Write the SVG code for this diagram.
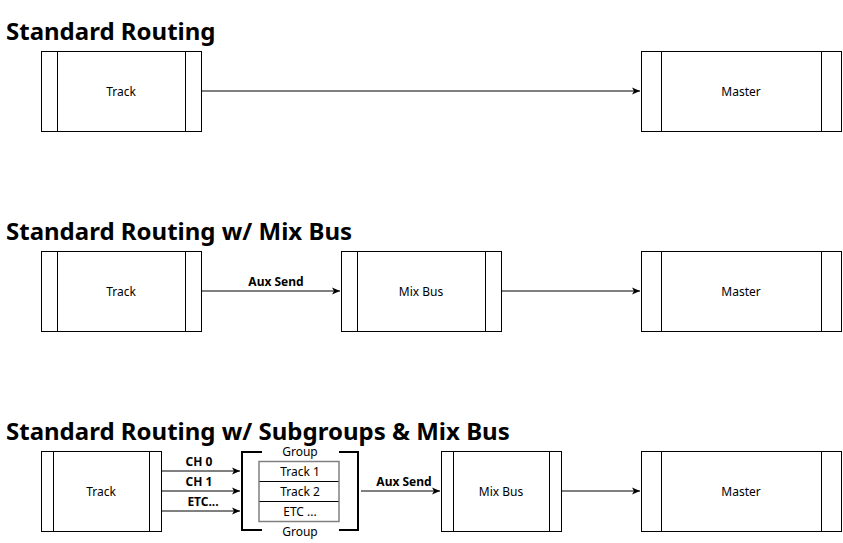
<svg xmlns="http://www.w3.org/2000/svg" width="843" height="543" viewBox="0 0 843 543">
<style>
.box{fill:#fff;stroke:#000;stroke-width:1}
.t{font-family:"Noto Sans","Open Sans","DejaVu Sans",sans-serif;font-size:12px;fill:#000;text-anchor:middle;dominant-baseline:central}
.b{font-weight:bold}
.title{font-family:"Noto Sans","Open Sans","DejaVu Sans",sans-serif;font-size:24px;font-weight:bold;fill:#000}
.c{stroke:#000;stroke-width:1;fill:none}
.br{stroke:#000;stroke-width:2;fill:none}
</style>
<defs>
<marker id="arr" markerWidth="10" markerHeight="8" refX="8" refY="4" orient="auto" markerUnits="userSpaceOnUse">
<path d="M0,0.5 L8,4 L0,7.5 L2,4 Z" fill="#000"/>
</marker>
</defs>
<rect width="843" height="543" fill="#fff"/>
<text class="title" x="6" y="40">Standard Routing</text>
<text class="title" x="6" y="240">Standard Routing w/ Mix Bus</text>
<text class="title" x="6" y="440">Standard Routing w/ Subgroups &amp; Mix Bus</text>

<g id="connectors">
<line class="c" x1="201" y1="91" x2="640" y2="91" marker-end="url(#arr)"/>
<line class="c" x1="201" y1="291" x2="340" y2="291" marker-end="url(#arr)"/>
<line class="c" x1="501" y1="291" x2="640" y2="291" marker-end="url(#arr)"/>
<line class="c" x1="161" y1="471" x2="240" y2="471" marker-end="url(#arr)"/>
<line class="c" x1="161" y1="491" x2="240" y2="491" marker-end="url(#arr)"/>
<line class="c" x1="161" y1="511" x2="240" y2="511" marker-end="url(#arr)"/>
<line class="c" x1="361" y1="491" x2="440" y2="491" marker-end="url(#arr)"/>
<line class="c" x1="561" y1="491" x2="640" y2="491" marker-end="url(#arr)"/>
<text class="t b" x="276" y="281">Aux Send</text>
<text class="t b" x="199" y="461">CH 0</text>
<text class="t b" x="199" y="481">CH 1</text>
<text class="t b" x="203" y="501">ETC...</text>
<text class="t b" x="404" y="481">Aux Send</text>
</g>

<g id="track1">
<rect class="box" x="41.5" y="51.5" width="160" height="80"/>
<line class="c" x1="57.5" y1="51.5" x2="57.5" y2="131.5"/>
<line class="c" x1="185.5" y1="51.5" x2="185.5" y2="131.5"/>
<text class="t" x="121" y="91">Track</text>
</g>
<g id="master1">
<rect class="box" x="641.5" y="51.5" width="200" height="80"/>
<line class="c" x1="661.5" y1="51.5" x2="661.5" y2="131.5"/>
<line class="c" x1="821.5" y1="51.5" x2="821.5" y2="131.5"/>
<text class="t" x="741" y="91">Master</text>
</g>

<g id="track2">
<rect class="box" x="41.5" y="251.5" width="160" height="80"/>
<line class="c" x1="57.5" y1="251.5" x2="57.5" y2="331.5"/>
<line class="c" x1="185.5" y1="251.5" x2="185.5" y2="331.5"/>
<text class="t" x="121" y="291">Track</text>
</g>
<g id="mixbus2">
<rect class="box" x="341.5" y="251.5" width="160" height="80"/>
<line class="c" x1="357.5" y1="251.5" x2="357.5" y2="331.5"/>
<line class="c" x1="485.5" y1="251.5" x2="485.5" y2="331.5"/>
<text class="t" x="421" y="291">Mix Bus</text>
</g>
<g id="master2">
<rect class="box" x="641.5" y="251.5" width="200" height="80"/>
<line class="c" x1="661.5" y1="251.5" x2="661.5" y2="331.5"/>
<line class="c" x1="821.5" y1="251.5" x2="821.5" y2="331.5"/>
<text class="t" x="741" y="291">Master</text>
</g>

<g id="track3">
<rect class="box" x="41.5" y="451.5" width="120" height="80"/>
<line class="c" x1="53.5" y1="451.5" x2="53.5" y2="531.5"/>
<line class="c" x1="149.5" y1="451.5" x2="149.5" y2="531.5"/>
<text class="t" x="101" y="491">Track</text>
</g>
<g id="group3">
<path class="br" d="M262,452 H242 V530 H262"/>
<path class="br" d="M339,452 H358 V530 H339"/>
<text class="t" x="300" y="451">Group</text>
<text class="t" x="300" y="531">Group</text>
<rect x="259" y="461.5" width="80" height="60" fill="#fff" stroke="#808080" stroke-width="1.5"/>
<line class="c" x1="259.5" y1="481.5" x2="338.5" y2="481.5"/>
<line class="c" x1="259.5" y1="501.5" x2="338.5" y2="501.5"/>
<text class="t" x="300" y="471">Track 1</text>
<text class="t" x="300" y="491">Track 2</text>
<text class="t" x="300" y="511">ETC ...</text>
</g>
<g id="mixbus3">
<rect class="box" x="441.5" y="451.5" width="120" height="80"/>
<line class="c" x1="453.5" y1="451.5" x2="453.5" y2="531.5"/>
<line class="c" x1="549.5" y1="451.5" x2="549.5" y2="531.5"/>
<text class="t" x="501" y="491">Mix Bus</text>
</g>
<g id="master3">
<rect class="box" x="641.5" y="451.5" width="200" height="80"/>
<line class="c" x1="661.5" y1="451.5" x2="661.5" y2="531.5"/>
<line class="c" x1="821.5" y1="451.5" x2="821.5" y2="531.5"/>
<text class="t" x="741" y="491">Master</text>
</g>
</svg>
